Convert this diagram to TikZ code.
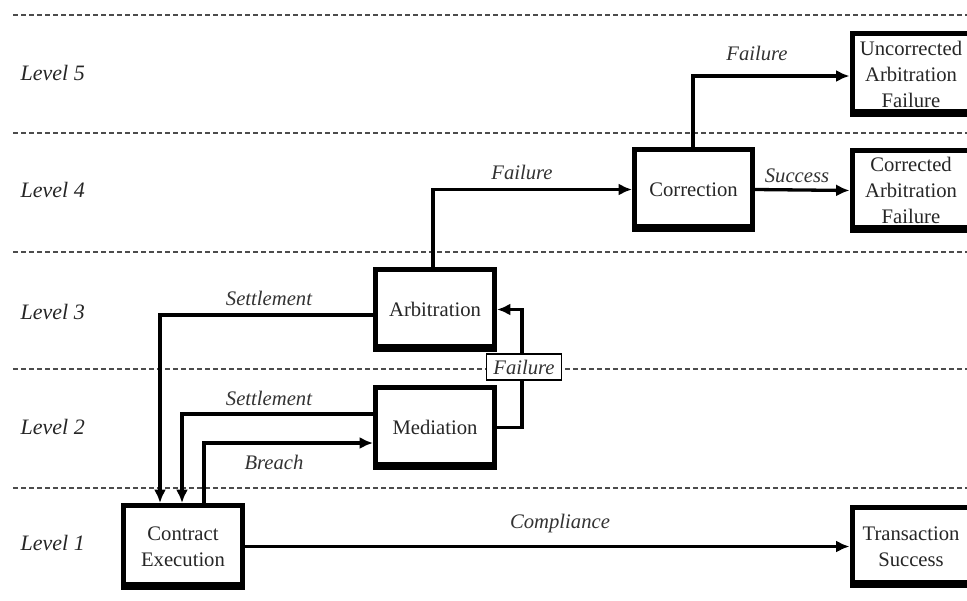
\documentclass[tikz,border=0pt]{standalone}
\usepackage{fontspec}
\setmainfont{Liberation Serif}
\usetikzlibrary{arrows.meta,calc}

\tikzset{
  stage/.style={draw=black, line width=5*0.75pt, fill=white, align=center,
    inner sep=0pt, text=black!85,
    font=\fontsize{15.5}{19.5}\selectfont},
  flow/.style={draw=black, line width=3.3*0.75pt,
    -{Latex[length=10pt,width=9pt]}},
  tag/.style={font=\fontsize{15.5}{18}\selectfont\itshape, text=black!80},
  tagbox/.style={tag, draw=black, line width=0.9pt, fill=white,
    minimum width=75*0.75pt, minimum height=26*0.75pt, inner sep=0pt},
  levelline/.style={draw=black!70, line width=1.2pt, dash pattern=on 4pt off 2pt},
  levelname/.style={font=\fontsize{16.5}{18}\selectfont\itshape, text=black!85, anchor=west}
}

\begin{document}
\begin{tikzpicture}[x=0.75pt,y=-0.75pt]
\useasboundingbox (0,0) rectangle (967,600);
\fill[white] (0,0) rectangle (967,600);

% level separators
\foreach \yy in {15,133,252,369,488}
  \draw[levelline] (13,\yy) -- (967,\yy);

% level names
\node[levelname] (l5) at (16,73)  {Level 5};
\node[levelname] (l4) at (16,190) {Level 4};
\node[levelname] (l3) at (16,312) {Level 3};
\node[levelname] (l2) at (16,427) {Level 2};
\node[levelname] (l1) at (16,543) {Level 1};

% stages
\node[stage, minimum width=119*0.75pt, minimum height=82*0.75pt] (contract) at (183,546.5) {Contract\\Execution};
\node[stage, minimum width=119*0.75pt, minimum height=80*0.75pt] (med) at (435,427.5) {Mediation};
\node[stage, minimum width=119*0.75pt, minimum height=80*0.75pt] (arb) at (435,309.5) {Arbitration};
\node[stage, minimum width=118*0.75pt, minimum height=80*0.75pt] (corr) at (693.5,189.5) {Correction};
\node[stage, minimum width=118*0.75pt, minimum height=80*0.75pt] (cafail) at (911,190.5) {Corrected\\Arbitration\\Failure};
\node[stage, minimum width=118*0.75pt, minimum height=81*0.75pt] (ucafail) at (911,74) {Uncorrected\\Arbitration\\Failure};
\node[stage, minimum width=118*0.75pt, minimum height=78*0.75pt] (trans) at (911,546.5) {Transaction\\Success};

% heavier lower edge on every stage box
\foreach \n in {contract,med,arb,corr,cafail,ucafail,trans}
  \draw[line width=3*0.75pt] ($(\n.south west)+(2.5,-6.5)$) -- ($(\n.south east)+(-2.5,-6.5)$);

% compliance
\draw[flow] (contract.east) -- (trans.west);
\node[tag] (tcomp) at (560,524) {Compliance};

% breach into mediation
\draw[flow] ($(contract.north)+(21,0)$) |- ($(med.west)+(0,15.5)$);
\node[tag] (tbreach) at (274,462) {Breach};

% settlements back to contract execution
\draw[flow] ($(med.west)+(0,-13.5)$) -| ($(contract.north)+(-1,0)$);
\node[tag] (tset2) at (269,398) {Settlement};
\draw[flow] ($(arb.west)+(0,5.5)$) -| ($(contract.north)+(-23,0)$);
\node[tag] (tset3) at (269,298) {Settlement};

% mediation failure escalates to arbitration
\draw[flow] (med.east) -- ++(25,0) |- (arb.east);
\node[tagbox] (tfail2) at (524,367) {Failure};

% arbitration failure escalates to correction
\draw[flow] ($(arb.north)+(-2,0)$) |- (corr.west);
\node[tag] (tfail3) at (522,172) {Failure};

% correction outcomes
\draw[flow] (corr.east) -- (cafail.west);
\node[tag] (tsucc) at (797,176) {Success};
\draw[flow] ($(corr.north)+(-0.5,0)$) |- ($(ucafail.west)+(0,2)$);
\node[tag] (tfail4) at (757,53) {Failure};
\end{tikzpicture}
\end{document}
